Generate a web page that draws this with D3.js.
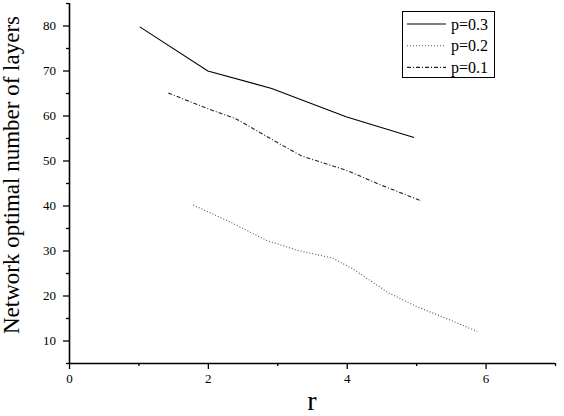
<!DOCTYPE html>
<html><head><meta charset="utf-8">
<script src="https://cdn.jsdelivr.net/npm/d3@7"></script>
<style>body{margin:0;background:#fff}svg{display:block}</style>
</head><body>
<script>
const xP3 = [1.02, 2.0, 2.92, 3.99, 4.97];
const yP3 = [79.7, 69.9, 66.0, 59.7, 55.1];
const xP2 = [1.79, 2.3, 2.85, 3.3, 3.8, 4.1, 4.6, 5.0, 5.48, 5.88];
const yP2 = [40.1, 36.5, 32.2, 30.0, 28.3, 25.8, 20.6, 17.6, 14.6, 12.0];
const xP1 = [1.43, 2.0, 2.4, 3.0, 3.35, 4.0, 4.5, 5.08];
const yP1 = [65.0, 61.5, 59.3, 54.0, 51.0, 47.8, 44.5, 41.0];
const seriesNames = ["p=0.3", "p=0.2", "p=0.1"];
const xTicks = [0, 2, 4, 6];
const yTicks = [10, 20, 30, 40, 50, 60, 70, 80];
const xTitle = "r";
const yTitle = "Network optimal number of layers";

const FONT = "'Liberation Serif', 'Times New Roman', Times, serif";
const W = 564, H = 416;
const svg = d3.select("body").append("svg").attr("width", W).attr("height", H);
const x = d3.scaleLinear().domain([0, 7]).range([69, 555]);
const y = d3.scaleLinear().domain([5, 85]).range([363, 3]);

const styles = [
  {stroke:"#000", dash:null, w:1.1},
  {stroke:"#555", dash:"1,2", w:1.1},
  {stroke:"#222", dash:"4,2,1,2", w:1.1}
];
const series = [
  xP3.map((v,i)=>[v,yP3[i]]),
  xP2.map((v,i)=>[v,yP2[i]]),
  xP1.map((v,i)=>[v,yP1[i]])
];
const line = d3.line().x(d=>x(d[0])).y(d=>y(d[1]));
series.forEach((s,i)=>{
  svg.append("path").attr("d", line(s)).attr("fill","none")
    .attr("stroke", styles[i].stroke).attr("stroke-width", styles[i].w)
    .attr("stroke-dasharray", styles[i].dash);
});

// axes
const xMinor = d3.range(1, 8, 2);
const yMinor = d3.range(5, 90, 10);
const xAxis = d3.axisBottom(x).tickValues(xTicks).tickSize(6).tickPadding(5).tickFormat(d3.format("d"));
const yAxis = d3.axisLeft(y).tickValues(yTicks).tickSize(6).tickPadding(7).tickFormat(d3.format("d"));
const gx = svg.append("g").attr("transform","translate(0,363)").call(xAxis);
const gy = svg.append("g").attr("transform","translate(69,0)").call(yAxis);
svg.append("g").attr("transform","translate(0,363)").call(d3.axisBottom(x).tickValues(xMinor).tickSize(3).tickFormat("")).select(".domain").remove();
svg.append("g").attr("transform","translate(69,0)").call(d3.axisLeft(y).tickValues(yMinor).tickSize(3).tickFormat("")).select(".domain").remove();
[gx, gy].forEach(g=>{
  g.attr("font-family", null);
  g.select(".domain").attr("stroke-width",1.6);
  g.selectAll(".tick text").style("font-family",FONT).style("font-size","13px").attr("fill","#000");
});
svg.selectAll(".tick line").attr("stroke-width",1.3);
gx.select(".domain").attr("d","M69,0.5H555");
gy.select(".domain").attr("d","M0.5,363V3");

// titles
svg.append("text").attr("x",312).attr("y",410).attr("text-anchor","middle")
  .style("font-family",FONT).style("font-size","28px").text(xTitle);
svg.append("text").attr("transform","translate(19,175) rotate(-90)").attr("text-anchor","middle")
  .style("font-family",FONT).style("font-size","23px").text(yTitle);

// legend
const lg = svg.append("g");
lg.append("rect").attr("x",402.5).attr("y",11.5).attr("width",92).attr("height",66)
  .attr("fill","#fff").attr("stroke","#000").attr("stroke-width",1);
seriesNames.forEach((n,i)=>{
  const yy = 24 + i*21.7;
  lg.append("line").attr("x1",407).attr("x2",446).attr("y1",yy).attr("y2",yy)
    .attr("stroke",styles[i].stroke).attr("stroke-width",styles[i].w).attr("stroke-dasharray",styles[i].dash);
  lg.append("text").attr("x",451).attr("y",yy+5.5).style("font-family",FONT).style("font-size","16px").text(n);
});
</script>
</body></html>
